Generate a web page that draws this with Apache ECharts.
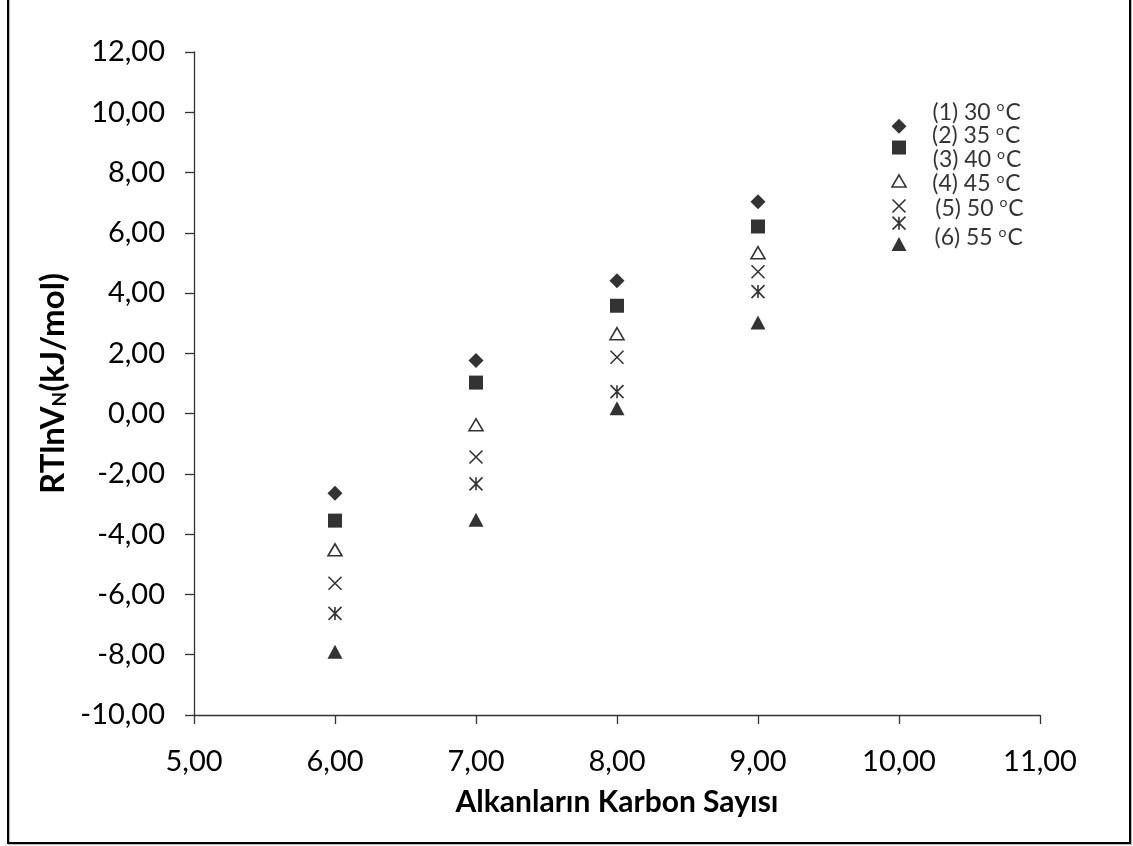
<!DOCTYPE html>
<html>
<head>
<meta charset="utf-8">
<script src="https://cdn.jsdelivr.net/npm/echarts@6/dist/echarts.min.js"></script>
<style>
html,body{margin:0;padding:0;background:#fff;}
#chart{width:1133px;height:846px;}
</style>
</head>
<body>
<div id="chart"></div>
<script>
var xValues = [6, 7, 8, 9, 10];
var s30 = [-2.64, 1.76, 4.41, 7.03, 9.54];
var s35 = [-3.55, 1.03, 3.58, 6.21, 8.83];
var s40 = [-4.52, -0.37, 2.65, 5.34, 7.72];
var s45 = [-5.63, -1.44, 1.87, 4.71, 6.89];
var s50 = [-6.63, -2.33, 0.73, 4.05, 6.32];
var s55 = [-7.90, -3.52, 0.18, 3.02, 5.63];
var seriesNums = ['(1)', '(2)', '(3)', '(4)', '(5)', '(6)'];
var seriesTemps = ['30', '35', '40', '45', '50', '55'];
var xAxisTitle = 'Alkanların Karbon Sayısı';

var FONT = 'Lato';
var fmt = function (v) { return v.toFixed(2).replace('.', ','); };

var allValues = [s30, s35, s40, s45, s50, s55];
var symbols = [
  {symbol: 'diamond', size: 15, style: {color: '#000'}},
  {symbol: 'rect', size: 14, style: {color: '#000'}},
  {symbol: 'triangle', size: [14, 12], style: {color: '#fff', borderColor: '#000', borderWidth: 1.6}},
  {symbol: 'path://M0,0L10,10M10,0L0,10', size: 13, style: {color: 'transparent', borderColor: '#000', borderWidth: 1.6}},
  {symbol: 'path://M0,0L10,10M10,0L0,10M5,0L5,10', size: 13, style: {color: 'transparent', borderColor: '#000', borderWidth: 1.6}},
  {symbol: 'triangle', size: [15, 14], style: {color: '#000'}}
];
var labelOffsets = [[26, -14], [26, -12], [26, -21], [26, -22], [29, -15], [28, -6]];

var series = allValues.map(function (vals, i) {
  return {
    name: seriesNums[i] + ' ' + seriesTemps[i] + ' oC',
    type: 'scatter',
    symbol: symbols[i].symbol,
    symbolSize: symbols[i].size,
    itemStyle: symbols[i].style,
    z: 10 - i,
    data: vals.map(function (v, j) {
      var d = {value: [xValues[j], v]};
      if (j === xValues.length - 1) {
        d.label = {
          show: true,
          position: 'right',
          distance: 0,
          offset: labelOffsets[i],
          formatter: seriesNums[i] + ' ' + seriesTemps[i] + ' {sup|o}C',
          color: '#000',
          fontFamily: FONT,
          fontSize: 23,
          rich: {sup: {fontSize: 14, fontFamily: FONT, color: '#000', padding: [0, 1, 11, 0]}}
        };
      }
      return d;
    }),
    emphasis: {disabled: true}
  };
});

var chart = echarts.init(document.getElementById('chart'), null, {renderer: 'canvas'});
chart.setOption({
  animation: false,
  backgroundColor: '#fff',
  grid: {left: 194, right: 93, top: 52, bottom: 131, containLabel: false},
  graphic: [{
    type: 'rect',
    shape: {x: 8, y: -4, width: 1122, height: 847},
    style: {fill: 'none', stroke: '#000', lineWidth: 2, shadowColor: 'rgba(0,0,0,0.3)', shadowOffsetX: 1, shadowOffsetY: 1, shadowBlur: 1},
    silent: true
  }],
  xAxis: {
    type: 'value', min: 5, max: 11, interval: 1,
    splitLine: {show: false},
    axisLine: {onZero: false, lineStyle: {color: '#333', width: 1.3}},
    axisTick: {show: true, length: 9, lineStyle: {color: '#333', width: 1.3}},
    axisLabel: {formatter: fmt, fontFamily: FONT, fontSize: 29, color: '#000', margin: 32},
    name: xAxisTitle,
    nameLocation: 'middle',
    nameGap: 72,
    nameTextStyle: {fontFamily: FONT, fontWeight: 'bold', fontSize: 30, color: '#000'}
  },
  yAxis: {
    type: 'value', min: -10, max: 12, interval: 2,
    splitLine: {show: false},
    axisLine: {onZero: false, lineStyle: {color: '#333', width: 1.3}},
    axisTick: {show: true, length: 9, lineStyle: {color: '#333', width: 1.3}},
    axisLabel: {formatter: fmt, fontFamily: FONT, fontSize: 29, color: '#000', margin: 29},
    name: '{a|RTlnV}{s|N}{a|(kJ/mol)}',
    nameLocation: 'middle',
    nameGap: 114,
    nameTextStyle: {
      fontFamily: FONT, fontWeight: 'bold', fontSize: 33, color: '#000',
      rich: {
        a: {fontFamily: FONT, fontWeight: 'bold', fontSize: 33, color: '#000'},
        s: {fontFamily: FONT, fontWeight: 'bold', fontSize: 19, color: '#000', padding: [14, 0, 0, 0]}
      }
    }
  },
  series: series
});
</script>
</body>
</html>
